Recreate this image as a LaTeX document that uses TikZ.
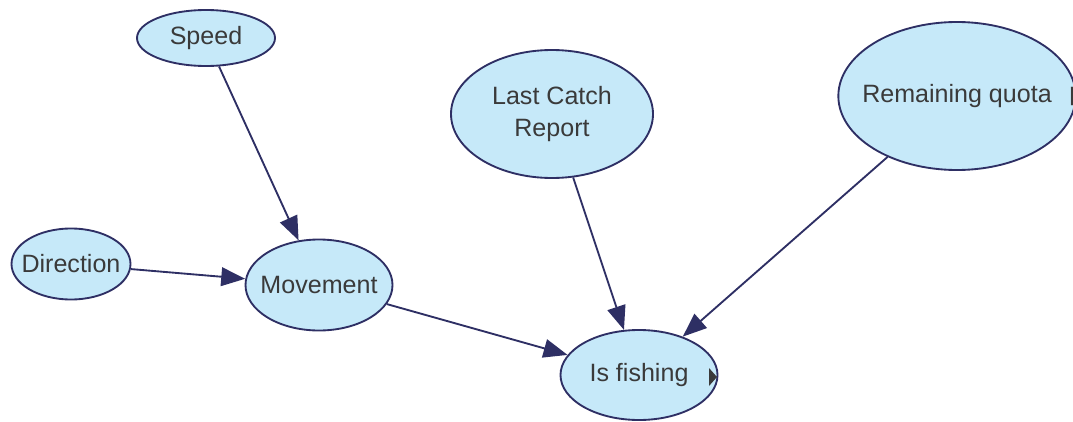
\documentclass[tikz,border=0pt]{standalone}
\usepackage{fontspec}
\setmainfont{Liberation Sans}
\usetikzlibrary{arrows.meta,shapes.geometric}
\definecolor{nodefill}{HTML}{C6E9F9}
\definecolor{edgecol}{HTML}{2E2F64}
\definecolor{textcol}{HTML}{3A3A3A}
\tikzset{
  lbl/.style={text=textcol, font=\fontsize{18.8}{24}\selectfont, align=center, inner sep=0pt},
  bn/.style={ellipse, draw=edgecol, fill=nodefill, line width=1.4pt, inner sep=0pt},
  link/.style={draw=edgecol, line width=1.4pt, -{Triangle[length=18pt,width=14pt]}}
}
\begin{document}
\begin{tikzpicture}[x=0.75pt,y=-0.75pt]
\useasboundingbox (0,0) rectangle (1073,421);
\node[bn, minimum width=103.5pt, minimum height=42pt, label={[lbl]center:Speed}] (speed) at (206,38) {};
\node[bn, minimum width=89.25pt, minimum height=53.25pt, label={[lbl]center:Direction}] (dir) at (71,264) {};
\node[bn, minimum width=110.25pt, minimum height=68.25pt, label={[lbl]center:Movement}] (mov) at (319,285) {};
\node[bn, minimum width=151.5pt, minimum height=96pt, label={[lbl]center:Last Catch\\Report}] (last) at (552,114) {};
\node[bn, minimum width=178pt, minimum height=111pt, label={[lbl]center:Remaining quota}] (quota) at (957,96) {};
\node[bn, minimum width=117.75pt, minimum height=67.5pt, label={[lbl]center:Is fishing}] (fish) at (639,375) {};
\node[lbl, anchor=base west] (pmark) at (1069,100) {p};
\fill[textcol] (709,368) -- (717,377) -- (709,386) -- cycle;
\draw[link] (speed) -- (mov);
\draw[link] (dir) -- (mov);
\draw[link] (mov) -- (fish);
\draw[link] (last) -- (fish);
\draw[link] (quota) -- (fish);
\end{tikzpicture}
\end{document}
